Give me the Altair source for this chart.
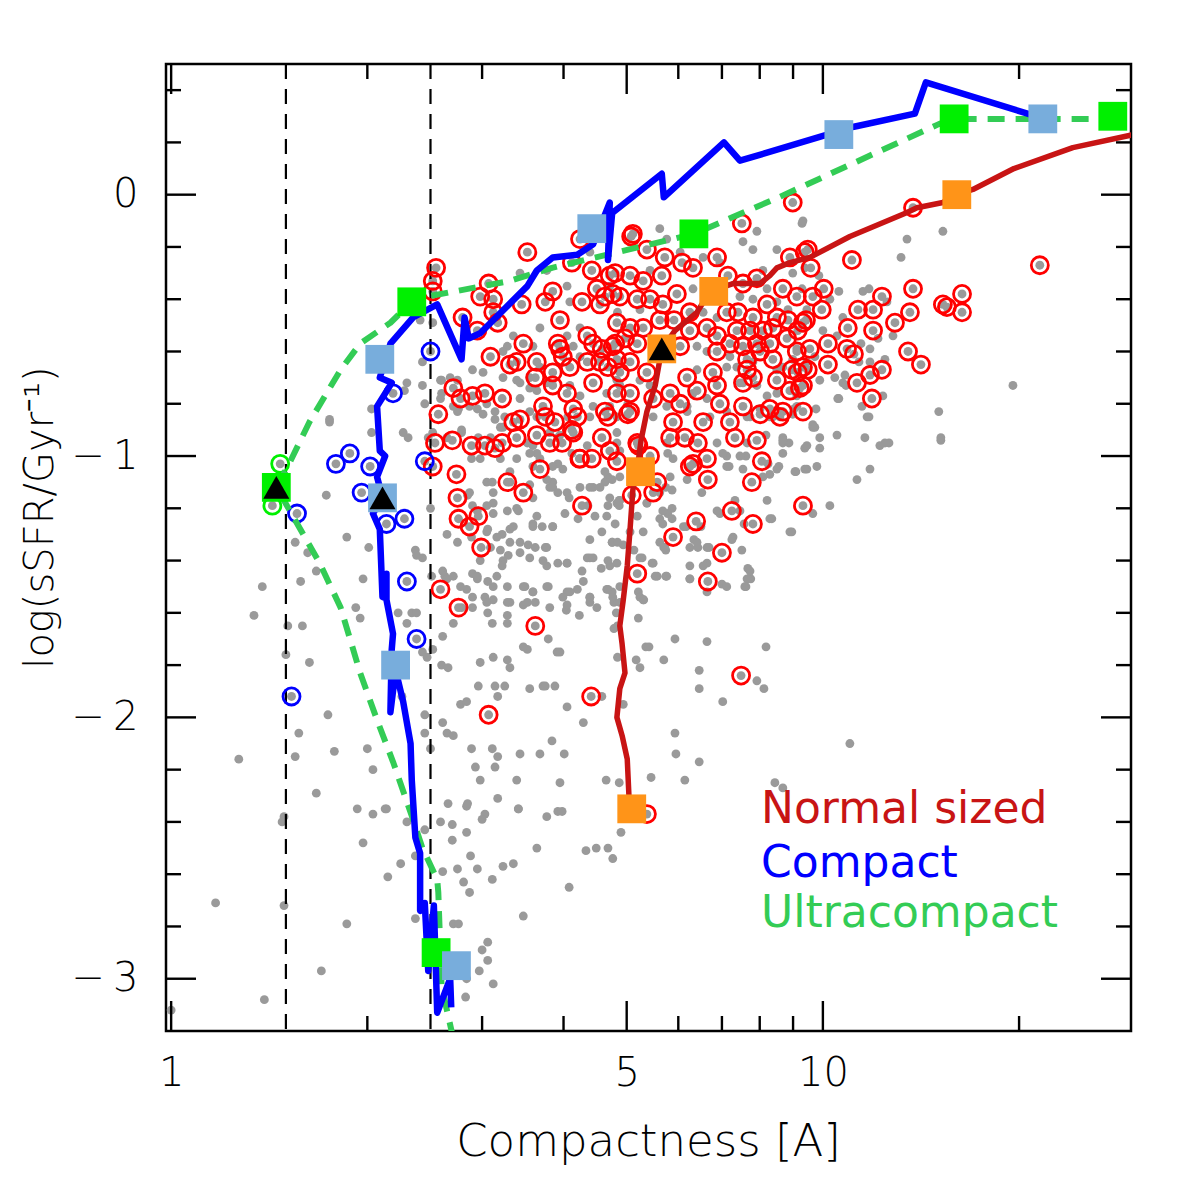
import altair as alt
import pandas as pd

# ---------------- data (compactness [A], log sSFR [Gyr^-1]) ----------------
# full galaxy sample
grey_pts = [
    (1.75,-0.87),(2.03,-0.91),(2.27,-0.91),(2.31,-0.93),(2.48,-0.93),(1.73,-1.15),(2.50,-1.20),(1.86,-1.31),
    (2.01,-1.35),(2.37,-1.36),(2.38,-1.38),(1.55,-1.33),(1.62,-1.37),(1.67,-1.44),(1.38,-1.50),(1.58,-1.48),
    (1.97,-1.47),(1.34,-1.61),(1.51,-1.65),(1.59,-1.65),(1.92,-1.58),(1.95,-1.62),(2.23,-1.60),(2.34,-1.60),
    (2.38,-1.60),(2.30,-1.64),(2.51,-1.46),(2.61,-1.44),(2.63,-1.46),(1.50,-1.76),(1.63,-1.79),(2.43,-1.75),
    (2.47,-1.77),(2.52,-1.74),(2.61,-1.69),(2.60,-1.80),(2.66,-1.81),(2.26,-1.92),(1.74,-1.99),(1.57,-2.06),
    (1.55,-2.15),(1.78,-2.13),(2.00,-2.12),(2.04,-2.20),(1.27,-2.16),(1.67,-2.29),(1.93,-2.35),(2.14,-2.35),
    (1.49,-2.38),(2.45,-1.99),(2.45,-2.06),(2.50,-2.12),(2.61,-2.02),(2.78,-1.95),(2.84,-1.94),(2.96,-1.88),
    (3.14,-1.88),(3.25,-1.88),(3.17,-1.92),(3.55,-1.89),(3.72,-1.88),(2.89,-2.12),(3.11,-2.12),(3.17,-2.15),
    (3.43,-2.14),(3.68,-2.14),(3.84,-2.09),(2.93,-2.19),(3.14,-2.19),(3.39,-2.24),(2.98,-2.24),(3.17,-2.31),
    (3.41,-2.35),(2.84,-2.34),(3.03,-2.37),(2.65,-2.06),(2.71,-2.07),(3.28,-1.78),(3.12,-1.77),(2.98,-1.79),
    (3.31,-1.81),(3.52,-1.74),(3.28,-1.64),(3.11,-1.64),(3.06,-1.60),(3.28,-1.61),(3.47,-1.57),(3.62,-1.56),
    (3.79,-1.70),(3.91,-1.75),(2.90,-1.58),(2.79,-1.58),(2.71,-1.64),(3.03,-1.54),(3.12,-1.50),(2.95,-1.47),
    (2.84,-1.51),(3.31,-1.56),(3.49,-1.50),(3.59,-1.52),(3.79,-1.50),(3.75,-1.35),(3.62,-1.35),(3.77,-1.42),
    (3.43,-1.37),(3.29,-1.38),(3.23,-1.40),(3.22,-1.42),(3.09,-1.35),(2.98,-1.40),(2.90,-1.45),(3.47,-1.73),
    (3.75,-1.88),(3.88,-1.88),(3.12,-1.55),(2.78,-1.50),(2.71,-1.46),(3.16,-1.46),(3.22,-1.30),(3.31,-1.28),
    (3.59,-1.26),(3.71,-1.27),(3.85,-1.27),(3.39,-1.20),(3.12,-1.22),(3.06,-1.28),(3.31,-1.33),(3.53,-1.34),
    (2.89,-1.31),(3.12,-1.18),(2.95,-1.21),(2.87,-1.14),(3.05,-1.10),(3.31,-1.10),(3.81,-1.12),(3.85,-1.10),
    (3.68,-1.01),(3.92,-1.03),(3.77,-1.09),(3.59,-1.16),(3.64,-0.99),(3.92,-0.93),
    (1.48,-2.40),(2.04,-2.37),(2.13,-2.35),(2.30,-2.40),(1.97,-2.48),(2.25,-2.56),(2.15,-2.61),(2.37,-2.53),
    (2.45,-2.43),(2.59,-2.40),(2.70,-2.41),(2.66,-2.33),(2.85,-2.33),(3.00,-2.39),(3.41,-2.35),(3.77,-2.38),
    (2.70,-2.47),(2.84,-2.44),(2.88,-2.53),(2.61,-2.59),(2.75,-2.58),(2.95,-2.58),(3.11,-2.62),(2.81,-2.63),
    (2.87,-2.67),(3.23,-2.57),(3.35,-2.56),(3.64,-2.50),(1.17,-2.71),(1.49,-2.72),(1.86,-2.79),(2.37,-2.77),
    (2.71,-2.79),(2.76,-2.79),(3.47,-2.76),(3.06,-2.86),(3.00,-2.89),(3.06,-2.93),(2.97,-2.97),(3.12,-3.02),
    (2.84,-3.00),(2.83,-3.07),(1.70,-2.97),(1.39,-3.08),(1.00,-3.12),(3.92,-2.36),
    (3.95,-0.92),(9.65,-0.89),(9.89,-0.93),(10.51,-0.92),(11.60,-0.93),(12.23,-0.96),(12.63,-0.95),(15.17,-0.94),
    (8.68,-0.95),(8.87,-0.95),(9.38,-0.97),(9.45,-1.05),(9.79,-1.04),(9.09,-1.06),(11.81,-1.05),(11.28,-1.09),
    (8.56,-1.04),(8.29,-1.07),(7.62,-1.00),(7.12,-1.00),(7.18,-1.04),(8.24,-1.03),(4.68,-1.08),(4.63,-1.10),
    (4.44,-1.12),(4.24,-1.12),(4.08,-1.16),(4.36,-1.19),(4.68,-1.19),(4.87,-1.17),(4.87,-1.19),(5.74,-1.12),
    (5.87,-1.13),(5.62,-1.14),(5.37,-1.18),(5.87,-1.20),(5.78,-1.22),(5.62,-1.24),(5.87,-1.24),(6.17,-1.27),
    (6.50,-1.27),(6.95,-1.22),(7.33,-1.17),(7.57,-1.26),(8.35,-1.24),(8.96,-1.29),(10.25,-1.19),(9.65,-1.22),
    (7.28,-1.31),(6.34,-1.32),(6.43,-1.35),(6.69,-1.35),(6.64,-1.41),(5.70,-1.35),(5.74,-1.36),(5.49,-1.41),
    (5.28,-1.39),(4.75,-1.33),(4.68,-1.40),(4.57,-1.43),(4.39,-1.39),(4.27,-1.44),(4.05,-1.41),(5.13,-1.36),
    (4.94,-1.34),(6.25,-1.47),(7.00,-1.49),(7.67,-1.43),(7.75,-1.47),(7.62,-1.50),(5.57,-1.46),(5.74,-1.46),
    (5.21,-1.52),(4.68,-1.51),(4.75,-1.52),(4.78,-1.56),(4.82,-1.60),(4.39,-1.54),(4.39,-1.56),(4.20,-1.51),
    (4.05,-1.52),(4.04,-1.59),(4.23,-1.61),(5.31,-1.55),(5.21,-1.62),(4.78,-1.66),(4.84,-1.65),(5.93,-1.70),
    (6.64,-1.71),(8.18,-1.73),(5.35,-1.73),(5.41,-1.73),(5.17,-1.78),(5.24,-1.81),(5.70,-1.78),(4.84,-1.77),
    (6.46,-1.82),(6.46,-1.89),(7.92,-1.86),(8.12,-1.89),(4.94,-1.95),(4.58,-1.92),(4.05,-1.96),(3.95,-1.75),
    (7.02,-1.94),(4.29,-2.02),(5.93,-2.06),(11.00,-2.10),(5.95,-2.14),(6.46,-2.17),(4.01,-2.14),(4.65,-2.24),
    (4.87,-2.25),(5.45,-2.23),(6.14,-2.24),(8.44,-2.25),(8.68,-2.27),(3.95,-2.25),
    (3.98,-2.36),(4.90,-2.44),(4.33,-2.51),(4.49,-2.50),(4.68,-2.50),(4.76,-2.54),(4.08,-2.65),
    (9.29,-0.11),(15.28,-0.14),(13.46,-0.17),(13.18,-0.24),(9.86,-0.31),(10.58,-0.37),(11.52,-0.37),(11.77,-0.36),
    (9.29,-0.36),(12.54,-0.41),(10.25,-0.40),(10.73,-0.47),(10.51,-0.54),(11.44,-0.57),(11.81,-0.59),(12.15,-0.55),
    (12.81,-0.54),(12.45,-0.63),(11.81,-0.64),(11.36,-0.64),(10.81,-0.69),(10.43,-0.70),(10.73,-0.72),(12.36,-0.77),
    (10.54,-0.78),(11.48,-0.81),(11.69,-0.85),(9.76,-0.82),(9.65,-0.88),(15.06,-0.83),(19.57,-0.73),(10.00,-0.52),
    (9.72,-0.62),(9.12,-0.59),(9.89,-0.71),(15.17,-0.93),(12.45,-0.95),(11.77,-0.85),(10.58,-0.78),(9.03,-0.82),
    (9.72,-0.89),(8.68,-0.93),(8.18,-0.92),(9.89,-0.97),(10.85,-0.73),
    (5.62,-0.13),(7.92,-0.14),(7.54,-0.18),(7.81,-0.21),(9.32,-0.10),(8.50,-0.21),(8.99,-0.30),(9.38,-0.28),
    (5.76,-0.17),(6.04,-0.22),(6.55,-0.24),(6.95,-0.26),(8.09,-0.29),(5.43,-0.29),(4.71,-0.35),(6.32,-0.36),
    (7.46,-0.39),(7.81,-0.40),(8.21,-0.36),(4.84,-0.45),(5.24,-0.44),(6.55,-0.45),(6.88,-0.47),(8.50,-0.41),
    (8.84,-0.44),(9.45,-0.44),(5.62,-0.60),(6.41,-0.58),(6.64,-0.60),(7.20,-0.62),(7.38,-0.66),(7.81,-0.64),
    (8.50,-0.67),(8.68,-0.66),(9.45,-0.64),(8.99,-0.63),(6.41,-0.67),(7.12,-0.66),(7.46,-0.72),(7.92,-0.73),
    (8.21,-0.77),(8.50,-0.76),(9.12,-0.77),(6.32,-0.76),(5.43,-0.73),(5.24,-0.71),(4.83,-0.71),(5.02,-0.80),
    (5.76,-0.81),(6.19,-0.81),(6.64,-0.78),(7.12,-0.83),(8.01,-0.82),(9.12,-0.81),(4.71,-0.81),(7.73,-0.85),
    (8.38,-0.85),
    (3.43,-0.30),(3.68,-0.51),(3.35,-0.54),(3.28,-0.58),(3.59,-0.58),(3.23,-0.60),(4.05,-0.54),(4.24,-0.51),
    (4.14,-0.58),(4.24,-0.62),(3.68,-0.66),(3.55,-0.70),(3.39,-0.71),(3.23,-0.70),(3.01,-0.68),(2.90,-0.67),
    (2.68,-0.70),(2.59,-0.71),(2.60,-0.76),(2.76,-0.82),(2.87,-0.81),(3.05,-0.80),(3.43,-0.78),(3.64,-0.75),
    (4.09,-0.73),(4.24,-0.77),(4.66,-0.76),(4.88,-0.73),(4.44,-0.81),(4.06,-0.85),(3.64,-0.85),(3.25,-0.85),
    (3.14,-0.83),(3.01,-0.84),(2.43,-0.64),(2.43,-0.73),(2.45,-0.80),(2.52,-0.49),(4.05,-0.35),(4.09,-0.41),
    (3.77,-0.29),(4.39,-0.22),(4.66,-0.17),
    (2.75,-0.83),(3.14,-0.86),(3.20,-0.89),(3.55,-0.83),(4.39,-0.85),(4.83,-0.85),(2.65,-0.93),(2.79,-0.91),
    (2.96,-0.93),(3.52,-0.95),(3.55,-0.99),(4.12,-0.99),(4.35,-0.96),(4.83,-0.95),(2.89,-1.01),(2.98,-1.01),
    (3.20,-1.01),(3.39,-1.01),(3.59,-1.04),(3.85,-1.04),(3.99,-1.05),(4.63,-1.06),(4.75,-1.09),(3.11,-1.10),
    (3.12,-1.14),(3.31,-1.06),(3.55,-1.11),(3.85,-1.12),(3.92,-1.14),(4.05,-1.14),(4.39,-1.12),(4.55,-1.12),
    (4.71,-1.16),(4.83,-1.18),(2.85,-1.15),(2.90,-1.19),(3.05,-1.19),(3.28,-1.21),(3.41,-1.21),(3.64,-1.23),
    (3.85,-1.27),(4.02,-1.22),(4.21,-1.24),(4.47,-1.23),(4.66,-1.23),(2.65,-1.30),(2.75,-1.33),(3.05,-1.29),
    (3.16,-1.31),(3.20,-1.36),(3.35,-1.27),(3.43,-1.33),(3.59,-1.27),(3.55,-1.39),(3.77,-1.35),(3.72,-1.40),
    (3.92,-1.41),(4.05,-1.41),(4.35,-1.39),(4.44,-1.39),(4.39,-1.32),(4.58,-1.29),(4.75,-1.33),(4.83,-1.41),
    (2.43,-1.39),(2.65,-1.47),(2.95,-1.46),(3.06,-1.48),(3.28,-1.50),(3.47,-1.50),(3.59,-1.52),(3.77,-1.50),
    (3.99,-1.54),(4.09,-1.52),(4.29,-1.48),(4.39,-1.54),(4.66,-1.51),(4.76,-1.54),(2.90,-1.54),(3.05,-1.56),
    (3.28,-1.56),(3.52,-1.56),(3.81,-1.58),(4.05,-1.57),(4.50,-1.58),
    (5.49,-0.85),(6.19,-0.83),(6.71,-0.85),(7.65,-0.85),(8.29,-0.85),(8.99,-0.84),(4.83,-0.91),(5.76,-0.95),
    (6.88,-0.95),(7.65,-0.95),(8.68,-0.94),(9.45,-0.96),(4.88,-0.98),(5.78,-0.99),(5.89,-1.01),(7.02,-0.99),
    (7.46,-1.00),(8.68,-0.99),(4.88,-1.08),(5.83,-1.08),(6.19,-1.09),(7.12,-1.04),(7.54,-1.05),(8.09,-1.08),
    (8.50,-1.05),(9.06,-1.06),(9.38,-1.05),(4.88,-1.17),(5.37,-1.18),(5.68,-1.21),(6.52,-1.14),(6.88,-1.21),
    (7.46,-1.21),(8.21,-1.17),(8.29,-1.24),(8.90,-1.29),(4.80,-1.26),(5.19,-1.23),(5.68,-1.26),(6.11,-1.27),
    (5.62,-1.33),(5.30,-1.29),(5.06,-1.29),(4.84,-1.33),(5.72,-1.35),(6.25,-1.35),(6.41,-1.33),(6.64,-1.35),
    (7.25,-1.32),(7.51,-1.36),(5.24,-1.39),(5.47,-1.41),(6.25,-1.42),(6.55,-1.42),(7.73,-1.44),(4.71,-1.42),
    (4.88,-1.50),(5.53,-1.46),(5.76,-1.46),(6.25,-1.47),(7.65,-1.47),(7.59,-1.50),(5.24,-1.54),(5.30,-1.55),
    (4.88,-1.56),(6.64,-1.52),(7.12,-1.50),
    (2.41,-0.48),(1.75,-0.86),(2.03,-0.82),(2.30,-0.72),(2.28,-0.75),(2.60,-0.71),(2.59,-0.78),(2.75,-0.71),
    (2.71,-0.81),(2.52,-0.91),(2.79,-0.90),(2.95,-0.82),(3.43,-0.72),(3.55,-0.74),(3.77,-0.72),(3.81,-0.91),
    (3.59,-0.96),(3.23,-0.89),(3.09,-0.93),
]

# normal-sized star-forming galaxies (red rings)
normal_pts = [
    (3.52,-0.22),(2.55,-0.28),(2.52,-0.33),(2.52,-0.37),(3.07,-0.34),(2.98,-0.39),(3.12,-0.40),(3.12,-0.45),
    (3.17,-0.49),(2.80,-0.47),(2.95,-0.52),(3.45,-0.42),(3.85,-0.37),(3.75,-0.41),(3.95,-0.48),(4.12,-0.26),
    (4.42,-0.29),(4.71,-0.31),(4.50,-0.36),(4.63,-0.39),(4.27,-0.41),(4.55,-0.42),(4.76,-0.38),(3.47,-0.57),
    (3.09,-0.62),(3.31,-0.65),(3.39,-0.64),(3.64,-0.64),(3.92,-0.57),(3.95,-0.59),(3.99,-0.62),(4.09,-0.66),
    (4.35,-0.54),(4.44,-0.57),(4.58,-0.59),(4.35,-0.64),(4.55,-0.64),(4.68,-0.66),(4.76,-0.58),(3.62,-0.70),
    (3.85,-0.68),(3.85,-0.73),(4.05,-0.76),(4.44,-0.72),(2.71,-0.74),(2.78,-0.78),(2.90,-0.77),(3.03,-0.76),
    (3.22,-0.78),(2.57,-0.84),(3.72,-0.81),(4.14,-0.82),(4.63,-0.83),(3.43,-0.86),(3.35,-0.87),(5.11,-0.15),
    (7.51,-0.11),(5.72,-0.24),(5.37,-0.21),(4.80,-0.30),(5.06,-0.31),(5.30,-0.33),(5.66,-0.31),(6.08,-0.26),
    (6.32,-0.28),(6.88,-0.24),(7.15,-0.31),(7.54,-0.34),(7.92,-0.32),(8.90,-0.24),(9.38,-0.22),(8.68,-0.36),
    (9.12,-0.39),(4.88,-0.39),(5.19,-0.40),(5.43,-0.40),(5.68,-0.42),(5.97,-0.38),(6.25,-0.45),(7.12,-0.45),
    (7.41,-0.45),(7.81,-0.47),(8.21,-0.42),(8.50,-0.47),(8.84,-0.48),(9.32,-0.49),(4.83,-0.49),(5.06,-0.51),
    (5.30,-0.51),(5.62,-0.48),(5.91,-0.48),(6.25,-0.52),(6.64,-0.51),(6.88,-0.54),(7.38,-0.52),(7.73,-0.52),
    (8.09,-0.52),(8.38,-0.51),(4.80,-0.57),(4.97,-0.55),(5.19,-0.57),(6.04,-0.58),(7.20,-0.57),(7.54,-0.58),
    (7.92,-0.57),(8.29,-0.57),(8.81,-0.55),(9.12,-0.60),(4.83,-0.63),(5.06,-0.64),(6.88,-0.60),(7.65,-0.63),
    (8.01,-0.60),(8.38,-0.63),(9.32,-0.66),(4.88,-0.68),(5.37,-0.68),(6.19,-0.70),(6.78,-0.68),(7.65,-0.67),
    (8.96,-0.67),(5.06,-0.76),(5.83,-0.76),(6.41,-0.75),(6.88,-0.73),(7.54,-0.72),(7.81,-0.70),(8.50,-0.71),
    (8.90,-0.75),(9.32,-0.73),(4.83,-0.76),(5.49,-0.78),(6.04,-0.80),(6.95,-0.80),(7.54,-0.81),(8.29,-0.82),
    (8.68,-0.83),(9.32,-0.83),(5.06,-0.83),(2.54,-0.95),(2.70,-0.94),(2.89,-0.96),(3.03,-0.96),(3.14,-0.97),
    (3.22,-0.95),(3.39,-0.93),(3.64,-0.92),(3.75,-0.85),(3.88,-0.87),(3.81,-0.95),(3.98,-0.95),(4.12,-0.90),
    (4.20,-0.85),(4.58,-0.93),(4.68,-0.85),(4.71,-0.98),(4.24,-1.01),(4.42,-1.01),(4.83,-1.02),(2.52,-1.04),
    (2.74,-1.07),(3.68,-1.05),(3.28,-1.10),(3.47,-1.14),(2.75,-1.16),(2.76,-1.24),(2.96,-1.23),(2.87,-1.27),
    (4.27,-1.19),(2.99,-1.35),(2.59,-1.51),(2.76,-1.58),(5.02,-0.84),(5.89,-0.87),(6.55,-0.87),(7.20,-0.87),
    (8.01,-0.84),(8.59,-0.85),(5.19,-0.95),(5.83,-0.93),(6.14,-0.93),(6.43,-0.95),(7.33,-0.93),(7.92,-0.94),
    (5.43,-1.00),(6.32,-1.03),(6.64,-1.01),(6.66,-1.09),(8.06,-1.02),(5.57,-1.10),(5.09,-1.15),(5.49,-1.14),
    (7.78,-1.10),(9.32,-1.19),(7.25,-1.21),(6.39,-1.25),(7.81,-1.26),(5.89,-1.31),(7.00,-1.37),(5.19,-1.45),
    (6.66,-1.48),(4.14,-0.91),(4.23,-1.01),(5.21,-0.96),(6.25,-1.04),(7.49,-1.84),(4.41,-1.92),(3.62,-1.65),
    (3.07,-1.99),(8.99,-0.03),(13.75,-0.05),(9.48,-0.21),(11.08,-0.25),(9.58,-0.28),(21.52,-0.27),(13.75,-0.36),
    (10.03,-0.36),(9.65,-0.39),(12.32,-0.39),(16.35,-0.38),(15.28,-0.42),(15.50,-0.43),(16.35,-0.45),(11.32,-0.44),
    (11.94,-0.44),(9.96,-0.44),(13.60,-0.45),(12.90,-0.49),(10.92,-0.51),(11.94,-0.52),(9.42,-0.48),(9.15,-0.52),
    (9.55,-0.59),(10.18,-0.57),(10.89,-0.59),(11.16,-0.61),(13.51,-0.60),(14.14,-0.65),(10.18,-0.65),(9.48,-0.67),
    (9.15,-0.68),(11.81,-0.69),(12.32,-0.67),(11.28,-0.72),(9.22,-0.74),(11.89,-0.78),(5.37,-2.37),(4.24,-0.17),
    (5.08,-0.16),
]

# compact galaxies (blue rings) and ultracompact galaxies (green rings)
compact_pts = [
    (2.50,-0.60),(2.19,-0.76),(1.79,-1.03),(1.88,-0.99),(2.02,-1.04),(2.45,-1.02),(1.96,-1.14),
    (1.56,-1.22),(2.14,-1.26),(2.28,-1.24),(2.30,-1.48),(2.38,-1.70),(1.53,-1.92),
]
ultra_pts = [(1.47,-1.03),(1.43,-1.19)]

# running medians of each class
compact_track = [
    (2.69,-3.11),(2.68,-3.00),(2.56,-3.13),(2.53,-2.72),(2.48,-2.97),(2.45,-2.71),(2.41,-2.74),(2.41,-2.52),
    (2.37,-2.46),(2.34,-2.24),(2.33,-2.10),(2.27,-1.94),(2.21,-1.82),(2.17,-1.98),(2.18,-1.74),(2.19,-1.68),
    (2.14,-1.55),(2.14,-1.45),(2.11,-1.54),(2.09,-1.28),(2.04,-1.22),(2.11,-1.16),(2.07,-1.08),(2.13,-1.00),
    (2.09,-0.98),(2.07,-0.81),(2.18,-0.72),(2.09,-0.70),(2.17,-0.57),(2.35,-0.47),(2.56,-0.42),(2.79,-0.63),
    (2.82,-0.47),(2.86,-0.55),(2.98,-0.53),(3.52,-0.35),(3.64,-0.29),(3.85,-0.24),(4.20,-0.23),(4.44,-0.19),
    (4.71,-0.03),(4.68,-0.25),(4.75,-0.07),(5.66,0.08),(5.70,-0.01),(7.05,0.20),(7.46,0.13),(11.16,0.26),
    (13.84,0.31),(14.39,0.43),(21.90,0.29),
]
ultra_track = [
    (2.71,-3.23),(2.60,-3.03),(2.57,-2.67),(2.56,-2.62),(2.43,-2.50),(2.35,-2.39),(2.19,-2.17),(2.07,-2.01),
    (1.95,-1.83),(1.82,-1.58),(1.69,-1.41),(1.49,-1.17),(1.45,-1.12),(1.51,-1.04),(1.63,-0.87),(1.82,-0.67),
    (1.95,-0.57),(2.17,-0.49),(2.34,-0.41),(2.47,-0.39),(3.31,-0.33),(3.84,-0.28),(6.34,-0.15),(8.56,-0.01),
    (15.06,0.27),(15.88,0.29),(27.55,0.29),
]
normal_track = [
    (5.06,-2.33),(5.04,-2.30),(5.01,-2.16),(4.92,-2.07),(4.83,-2.00),(4.88,-1.89),(4.97,-1.83),(4.92,-1.72),
    (4.88,-1.65),(4.94,-1.55),(5.01,-1.42),(5.06,-1.28),(5.11,-1.13),(5.19,-1.05),(5.26,-0.94),(5.37,-0.83),
    (5.53,-0.73),(5.66,-0.59),(5.93,-0.52),(6.41,-0.45),(6.71,-0.37),(7.28,-0.34),(8.01,-0.34),(8.29,-0.31),
    (8.50,-0.28),(8.90,-0.26),(9.55,-0.24),(11.00,-0.16),(13.41,-0.07),(13.94,-0.05),(15.28,-0.03),(16.05,0.00),
    (16.99,0.02),(19.64,0.10),(24.18,0.18),(29.99,0.23),
]

# evolutionary stages along each track
compact_steps = [(2.09,-0.63),(2.11,-1.16),(2.21,-1.80),(2.74,-2.95),(4.42,-0.13),(10.58,0.23),(21.75,0.29)]
ultra_steps = [(1.45,-1.12),(2.34,-0.41),(2.55,-2.90),(6.34,-0.15),(15.90,0.29),(27.85,0.30)]
normal_steps = [(5.09,-2.35),(5.25,-1.06),(5.66,-0.59),(6.80,-0.37),(16.05,0.00)]
quench_marks = [(1.45,-1.12),(2.11,-1.16),(5.66,-0.59)]

legend_labels = ["Normal sized", "Compact", "Ultracompact"]
compactness_cuts = [1.5, 2.5]

x_major = [1, 5, 10]
x_minor = [2, 3, 4, 6, 7, 8, 9, 20]
y_major = [-3, -2, -1, 0]
y_minor = [-2.8, -2.6, -2.4, -2.2, -1.8, -1.6, -1.4, -1.2, -0.8, -0.6, -0.4, -0.2, 0.2, 0.4]

# ---------------- chart ----------------
W, H = 965, 967
FONT = "DejaVu Sans"
RED_LINE = "#C81414"
BLUE = "#0000FF"
GREEN_LINE = "#33CC55"


def pts(pairs):
    return pd.DataFrame(pairs, columns=["c", "s"])


def track(pairs):
    df = pts(pairs)
    df["i"] = range(len(df))
    return df


xs = alt.Scale(type="log", domain=[0.982, 29.7], nice=False)
ys = alt.Scale(domain=[-3.2, 0.5], nice=False, zero=False)

x_axis = alt.Axis(
    values=x_major, format="d", title="Compactness [A]",
    labelFontSize=40, labelPadding=22, labelBaseline="top", labelFlush=False, labelOverlap=False,
    titleFontSize=45, titleX=482, titleY=124, titleAlign="center", titleBaseline="alphabetic",
    ticks=False, tickSize=0, domain=False, grid=False,
)
y_axis = alt.Axis(
    values=y_major, labelExpr="datum.value < 0 ? '\u2212\u2009' + abs(datum.value) : '0'",
    title="log(sSFR/Gyr\u207b\u00b9)",
    labelFontSize=40, labelPadding=28, labelAlign="right", labelBaseline="middle", labelOverlap=False,
    titleFontSize=40, titleX=-126, titleY=453, titleAngle=270, titleAlign="center", titleBaseline="middle",
    ticks=False, tickSize=0, domain=False, grid=False,
)
XE = alt.X("c:Q", scale=xs, axis=x_axis)
YE = alt.Y("s:Q", scale=ys, axis=y_axis)

all_pts = grey_pts + normal_pts + compact_pts + ultra_pts
grey = alt.Chart(pts(all_pts)).mark_circle(size=78, color="#9A9A9A", opacity=1).encode(x=XE, y=YE)


def rings(pairs, color):
    return alt.Chart(pts(pairs)).mark_point(
        shape="circle", size=290, filled=False, color=color, strokeWidth=2.8, opacity=1
    ).encode(x=XE, y=YE)


red_rings = rings(normal_pts, "#FF0000")
blue_rings = rings(compact_pts, "#0000FF")
green_rings = rings(ultra_pts, "#00F000")

cuts = alt.Chart(pd.DataFrame({"c": compactness_cuts})).mark_rule(
    color="black", strokeWidth=2.2, strokeDash=[15, 10]
).encode(x=XE)


def line(pairs, color, width, dash=None):
    kw = dict(color=color, strokeWidth=width, clip=True, strokeJoin="round")
    if dash:
        kw["strokeDash"] = dash
    return alt.Chart(track(pairs)).mark_line(**kw).encode(x=XE, y=YE, order="i:Q")


red_line = line(normal_track, RED_LINE, 5.5)
green_line = line(ultra_track, GREEN_LINE, 6, [17, 11])
blue_line = line(compact_track, BLUE, 6.5)


def squares(pairs, color):
    return alt.Chart(pts(pairs)).mark_point(
        shape="square", size=830, filled=True, color=color, opacity=1
    ).encode(x=XE, y=YE)


orange_sq = squares(normal_steps, "#FF9418")
green_sq = squares(ultra_steps, "#00F000")
blue_sq = squares(compact_steps, "#78ADDC")
tris = alt.Chart(pts(quench_marks)).mark_point(
    shape="triangle-up", size=680, filled=True, color="black", opacity=1
).encode(x=XE, y=YE)


# inward-pointing ticks on all four sides
def yticks(vals, length):
    df = pd.DataFrame({"s": vals})
    base = alt.Chart(df).mark_rule(color="black", strokeWidth=2.4)
    return [
        base.encode(y=YE, x=alt.value(0), x2=alt.value(length)),
        base.encode(y=YE, x=alt.value(W - length), x2=alt.value(W)),
    ]


def xticks(vals, length):
    df = pd.DataFrame({"c": vals})
    base = alt.Chart(df).mark_rule(color="black", strokeWidth=2.4)
    return [
        base.encode(x=XE, y=alt.value(H - length), y2=alt.value(H)),
        base.encode(x=XE, y=alt.value(0), y2=alt.value(length)),
    ]


tick_layers = yticks(y_minor, 15) + yticks(y_major, 30) + xticks(x_minor, 15) + xticks(x_major, 30)


def label(text, color, ypix):
    return alt.Chart(pd.DataFrame({"t": [text]})).mark_text(
        font=FONT, fontSize=44, fontWeight="normal", align="left", baseline="alphabetic", color=color
    ).encode(x=alt.value(595), y=alt.value(ypix), text="t:N")


labels = [
    label(legend_labels[0], RED_LINE, 759),
    label(legend_labels[1], BLUE, 813),
    label(legend_labels[2], GREEN_LINE, 863),
]

chart = alt.layer(
    grey, cuts, red_rings, blue_rings, green_rings,
    red_line, green_line, blue_line,
    orange_sq, green_sq, blue_sq, tris,
    *tick_layers, *labels,
).properties(
    width=W, height=H,
    padding={"left": 166, "top": 64, "right": 65, "bottom": 165},
    autosize=alt.AutoSizeParams(type="none"),
    background="white",
).configure_view(
    stroke="black", strokeWidth=2.5
).configure_axis(
    labelFont=FONT, titleFont=FONT, labelColor="black", titleColor="black",
    labelFontWeight=200, titleFontWeight=200,
)

chart.save("out.html", embed_options={"renderer": "svg", "actions": False})
